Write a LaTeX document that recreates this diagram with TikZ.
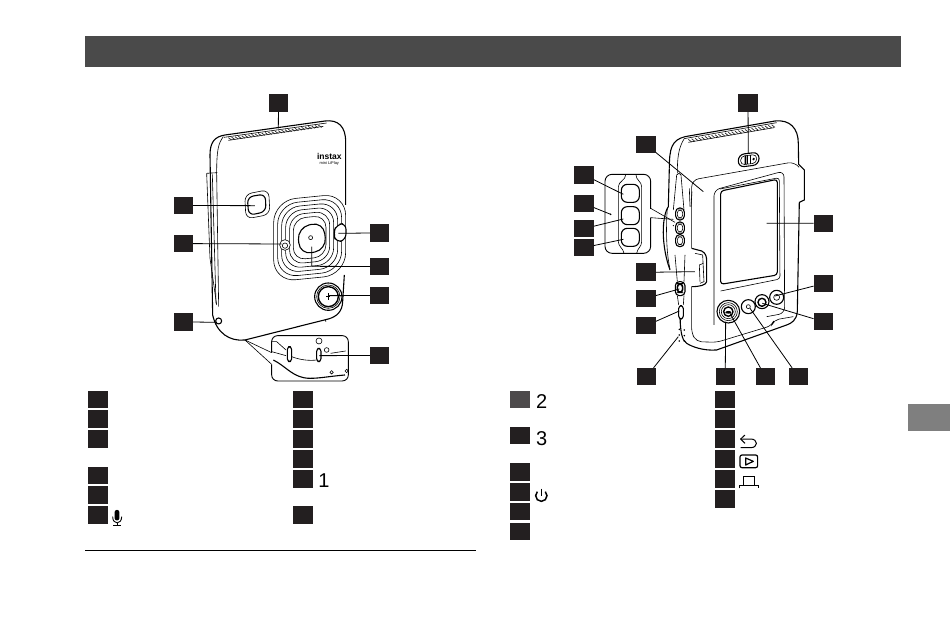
\documentclass[tikz,border=0pt]{standalone}
\usepackage{fontspec}
\setmainfont{Liberation Sans}
\definecolor{sqk}{HTML}{231F20}
\definecolor{sqg}{HTML}{4D4A4B}
\definecolor{bar}{HTML}{4A4A4A}
\definecolor{tabc}{HTML}{7F7F7F}
\tikzset{
  sq/.style={fill=sqk,draw=none,minimum width=19.5pt,minimum height=17.5pt,inner sep=0pt,outer sep=0pt},
  lead/.style={line width=0.8pt,black},
  body/.style={line width=1.1pt,black,line join=round},
  thin/.style={line width=0.6pt,black},
  hair/.style={line width=0.7pt,black!85},
  digit/.style={inner sep=0pt,font=\fontsize{20}{20}\selectfont},
  zf/.style={shift={(160,85)},x=0.3333pt,y=-0.3333pt},
  zb/.style={shift={(560,85)},x=0.3333pt,y=-0.3333pt},
  zl/.style={shift={(80,385)},x=0.3333pt,y=-0.3333pt},
  zr/.style={shift={(500,385)},x=0.3333pt,y=-0.3333pt},
}
\begin{document}
\begin{tikzpicture}[x=1pt,y=-1pt]
\useasboundingbox (0,0) rectangle (950,633);
\fill[white] (0,0) rectangle (950,633);
% header, tab, rule
\fill[bar] (85,36) rectangle (901,67);
\fill[tabc] (908,404) rectangle (950,431);
\coordinate (ruleA) at (85,550); \coordinate (ruleB) at (476,550);
\draw[line width=0.9pt] (ruleA) -- (ruleB);

% ---------- FRONT ----------
\begin{scope}[zf]
\draw[body] (150,210) .. controls (150,170) and (165,155) .. (195,150) -- (495,108)
  .. controls (535,103) and (557,125) .. (557,170) -- (557,360);
\draw[body] (553,570) -- (548,650) .. controls (547,680) and (530,695) .. (505,702)
  -- (255,765) .. controls (210,770) and (170,745) .. (158,690) -- (150,210);
% top vents
\draw[thin] (192,157) -- (500,114);
\draw[thin] (205,166) -- (490,124);
\foreach \i in {0,...,27} \draw[hair] ({205+\i*10},{158-\i*1.4}) -- ({215+\i*10},{165-\i*1.4});
\draw[thin] (190,155) .. controls (175,175) and (170,195) .. (170,265);
% side strip
\draw[thin] (140,265) -- (172,263);
\draw[thin] (140,265) -- (150,520) -- (170,660);
\draw[thin] (170,263) -- (172,400) -- (176,665);
\draw[thin] (157,268) -- (168,655);
% viewfinder
\draw[body,rounded corners=6pt] (262,336) -- (316,327) -- (318,380) -- (266,391) -- cycle;
\draw[thin,rounded corners=7pt] (254,328) -- (326,314) -- (330,388) -- (258,402) -- cycle;
% lens square rings
\begin{scope}[shift={(449,458)},yslant=0.1]
\foreach \w/\h/\r in {108/122/22,96/110/20,84/98/18,72/86/16,60/74/14,49/62/12}
  \draw[thin,rounded corners=\r pt] (-\w,-\h) rectangle (\w,\h);
\end{scope}
\draw[body,fill=white,rounded corners=12pt] (412,428) -- (490,410) -- (500,494) -- (420,510) -- cycle;
\draw[thin] (452,458) circle (6);
% flash
\draw[body,fill=white,rounded corners=6pt] (530,418) -- (558,415) -- (558,465) -- (528,472) -- (520,445) -- cycle;
% timer lamp
\draw[thin,fill=white] (375,480) circle (16);
\draw[thin] (375,482) circle (8);
% shutter button
\draw[body,fill=white] (505,635) circle (41);
\draw[thin] (505,635) circle (35);
\draw[line width=1.4pt] (505,635) circle (30);
\draw[thin] (505,625) -- (505,645) (499,635) -- (511,635);
% strap eyelet
\draw[body] (176,708) circle (9);
% foot
\draw[thin] (495,703) -- (498,710);
% inset
\draw[body,rounded corners=6pt,line width=0.9pt] (335,803) -- (335,752) -- (565,752) -- (565,888) -- (335,888) -- (335,838);
\coordinate (fa) at (255,765);
\coordinate (fb) at (335,803);
\coordinate (fc) at (335,838);
\draw[thin] (fa) -- (fb);
\draw[thin] (fa) -- (fc);
\draw[thin] (335,770) -- (350,770) -- (378,795);
\draw[thin] (335,770) -- (335,800) -- (378,812);
\draw[body,fill=white,rounded corners=3pt] (382,785) rectangle (395,830);
\draw[thin] (395,815) .. controls (420,825) and (450,828) .. (470,825);
\draw[body,fill=white,rounded corners=3pt] (470,790) rectangle (483,830);
\draw[thin] (512,805) -- (557,798);
\draw[thin] (477,768) circle (9);
\draw[thin] (500,795) circle (7);
\draw[body] (340,825) .. controls (380,845) and (400,880) .. (450,880) .. controls (480,880) and (500,875) .. (555,870);
\draw[thin] (515,862) circle (5);
\draw[thin] (560,858) circle (5);
% instax
\node[inner sep=0pt,font=\bfseries\fontsize{8.5}{9}\selectfont] (instaxA) at (508,213) {instax};
\node[inner sep=0pt,font=\fontsize{4}{5}\selectfont] (instaxB) at (508,234) {mini LiPlay};
\coordinate (c1) at (355,130);
\coordinate (c2) at (285,362);
\coordinate (c3) at (365,477);
\coordinate (c4) at (170,712);
\coordinate (c5) at (535,445);
\coordinate (c6) at (455,485);
\coordinate (c6k) at (455,544);
\coordinate (c7) at (505,632);
\coordinate (c8) at (478,812);
\end{scope}
\node[sq] (f1) at (278.5,103) {};
\node[sq] (f2) at (183.3,205.5) {};
\node[sq] (f3) at (183.3,243.6) {};
\node[sq] (f4) at (183.3,322) {};
\node[sq] (f5) at (379.6,233) {};
\node[sq] (f6) at (379.6,266.5) {};
\node[sq] (f7) at (379.6,295.5) {};
\node[sq] (f8) at (379.6,355.5) {};
\draw[lead] (f1) -- (c1);
\draw[lead] (f2.east) -- (c2);
\draw[lead] (f3.east) -- (c3);
\draw[lead] (f4.east) -- (c4);
\draw[lead] (f5.west) -- (c5);
\draw[lead] (f6.west) -- (c6k) -- (c6);
\draw[lead] (f7.west) -- (c7);
\draw[lead] (f8.west) -- (c8);

% ---------- BACK ----------
\begin{scope}[zb]
\draw[body] (328,250) .. controls (328,190) and (335,165) .. (375,155) -- (645,108)
  .. controls (690,103) and (715,130) .. (715,175) -- (716,238) -- (733,255) -- (733,345) -- (718,352)
  -- (712,680) .. controls (710,705) and (695,715) .. (680,720) -- (470,795)
  .. controls (430,798) and (395,785) .. (380,775) .. controls (365,765) and (362,740) .. (360,700);
\draw[body] (328,250) -- (325,365) .. controls (305,395) and (303,480) .. (330,555);
\draw[thin] (322,370) .. controls (318,420) and (318,500) .. (330,552);
% vents
\draw[thin] (372,161) -- (650,113);
\draw[thin] (385,172) -- (642,128);
\foreach \i in {0,...,25} \draw[hair] ({385+\i*10},{163-\i*1.75}) -- ({395+\i*10},{171-\i*1.75});
\draw[thin] (372,162) .. controls (355,190) and (352,220) .. (352,265);
% panel
\draw[thin,rounded corners=7pt] (395,490) -- (395,285) -- (705,230) -- (716,245);
\draw[thin] (388,310) -- (390,365);
\draw[thin] (396,320) -- (393,365);
\draw[body] (395,490) -- (425,498) .. controls (438,505) and (440,515) .. (440,530) -- (440,590) .. controls (438,600) and (420,605) .. (395,605);
\draw[thin] (405,505) -- (428,510) -- (432,590) -- (420,595);
\draw[thin] (418,540) -- (430,535) (420,590) -- (418,540);
\draw[thin,rounded corners=5pt] (395,605) -- (395,745) -- (410,770) -- (470,772) -- (635,722) -- (642,705) -- (700,695);
% bezel
\draw[thin,rounded corners=6pt] (462,720) -- (462,315) -- (672,258) -- (674,685) -- (620,695);
% screen
\draw[body,rounded corners=3pt] (482,598) -- (482,318) -- (652,283) -- (652,570) -- cycle;
\draw[thin,rounded corners=3pt] (482,618) -- (660,582) -- (658,278) -- (480,312);
% switch
\begin{scope}[shift={(566,224)},yslant=0.12]
\draw[body,fill=white,rounded corners=6pt] (-31,-19) rectangle (31,19);
\draw[thin,rounded corners=4pt] (-24,-13) rectangle (24,13);
\fill (-12,-13) rectangle (-7,13);
\draw[thin] (-3,-13) -- (-3,13) (5,-13) -- (5,13);
\fill (15,0) circle (4);
\end{scope}
% control strip
\draw[thin] (350,270) -- (340,375) (363,270) -- (372,375);
\draw[thin] (350,270) -- (357,265) -- (363,270);
\draw[thin] (345,510) -- (352,590) (375,510) -- (372,590);
\foreach \yy in {388,430,468} {
  \draw[body,fill=white,rounded corners=4pt] (347,\yy-19) rectangle (373,\yy+17);
  \draw[thin,rounded corners=3pt] (352,\yy-13) rectangle (368,\yy+11);
}
\fill (340,422) circle (2);
% power switch
\draw[body,fill=white,rounded corners=4pt] (346,590) rectangle (375,632);
\draw[line width=1.6pt,rounded corners=3pt] (352,597) rectangle (368,622);
\draw[thin] (352,632) -- (356,660) (372,632) -- (370,660);
% slot
\draw[body,fill=white,rounded corners=3pt] (356,662) rectangle (370,702);
\draw[thin] (362,705) -- (362,730);
% speaker holes
\foreach \px/\py in {358/733,373/735,358/750,373/752,358/768,373/768}
  \fill (\px,\py) circle (2.6);
% dial + buttons
\draw[body,fill=white] (505,680) circle (34);
\foreach \r in {27,21} \draw[thin] (505,680) circle (\r);
\draw[line width=1.4pt,fill=white] (505,680) circle (14);
\fill (505,682) ellipse (9 and 4);
\draw[body,fill=white] (565,665) circle (21);
\draw[thin] (565,665) circle (6);
\draw[body,fill=white] (606,650) circle (21);
\draw[line width=1.4pt] (606,652) circle (12);
\draw[body,fill=white] (650,637) circle (21);
\draw[thin] (650,637) circle (9);
% inset
\draw[body,line width=0.9pt,rounded corners=7pt] (272,372) -- (272,268) -- (135,268) -- (135,505) -- (272,505) -- (272,398);
\coordinate (ba) at (272,370);
\coordinate (bb) at (345,412);
\coordinate (bc) at (272,398);
\coordinate (bd) at (340,403);
\draw[thin] (ba) -- (bb);
\draw[thin] (bc) -- (bd);
\draw[thin] (197,270) .. controls (197,285) and (175,290) .. (175,305) -- (175,470) .. controls (175,485) and (190,490) .. (192,505);
\draw[thin] (228,270) .. controls (228,285) and (245,290) .. (245,305) -- (245,470) .. controls (245,485) and (232,490) .. (230,505);
\foreach \yy in {325,392,457}
  \draw[body,fill=white,rounded corners=6pt] (184,\yy-27) rectangle (238,\yy+27);
\coordinate (d1) at (565,205);
\coordinate (d2) at (430,320);
\coordinate (d3) at (190,328);
\coordinate (d4) at (152,388);
\coordinate (d5) at (190,402);
\coordinate (d6) at (190,463);
\coordinate (d7) at (405,560);
\coordinate (d8) at (358,612);
\coordinate (d9) at (358,678);
\coordinate (d10) at (355,755);
\coordinate (d11) at (497,710);
\coordinate (d12) at (510,685);
\coordinate (d13) at (570,670);
\coordinate (d14) at (620,415);
\coordinate (d15) at (645,633);
\coordinate (d16) at (607,655);
\end{scope}
\fill (d4) circle (0.9pt);
\node[sq] (b1) at (748,103) {};
\node[sq] (b2) at (646.2,144.5) {};
\node[sq] (b3) at (584,174.8) {};
\node[sq] (b4) at (584,203.6) {};
\node[sq] (b5) at (584,228.6) {};
\node[sq] (b6) at (584,247.6) {};
\node[sq] (b7) at (646.2,272.2) {};
\node[sq] (b8) at (646.2,298.3) {};
\node[sq] (b9) at (646.2,325.6) {};
\node[sq] (b10) at (646.6,376.6) {};
\node[sq] (b11) at (725.3,376.6) {};
\node[sq] (b12) at (765.3,376.6) {};
\node[sq] (b13) at (798.3,376.6) {};
\node[sq] (b14) at (823.3,223.3) {};
\node[sq] (b15) at (823.3,283.6) {};
\node[sq] (b16) at (823.3,321.6) {};
\draw[lead] (b1) -- (d1);
\draw[lead] (b2) -- (d2);
\draw[lead] (b3) -- (d3);
\draw[lead] (b4) -- (d4);
\draw[lead] (b5) -- (d5);
\draw[lead] (b6) -- (d6);
\draw[lead] (b7.east) -- (d7);
\draw[lead] (b8) -- (d8);
\draw[lead] (b9) -- (d9);
\draw[lead] (b10) -- (d10);
\draw[lead] (b11.north) -- (d11);
\draw[lead] (b12) -- (d12);
\draw[lead] (b13) -- (d13);
\draw[lead] (b14.west) -- (d14);
\draw[lead] (b15) -- (d15);
\draw[lead] (b16) -- (d16);

% ---------- LEGEND ----------
\foreach \n/\yy in {a/399.4,b/419.2,c/438.8,d/475.4,e/495.2,f/515}
  \node[sq] (la\n) at (97.8,\yy) {};
\foreach \n/\yy in {a/399.4,b/419.2,c/438.8,d/458.8,e/478.8,f/515}
  \node[sq] (lb\n) at (302.8,\yy) {};
\node[sq,fill=sqg] (lca) at (520.2,399.4) {};
\foreach \n/\yy in {b/435.6,c/472,d/491.8,e/511.6,f/531.4}
  \node[sq] (lc\n) at (520.2,\yy) {};
\foreach \n/\yy in {a/399.4,b/419.2,c/439,d/458.8,e/478.8,f/499}
  \node[sq] (ld\n) at (724.8,\yy) {};
\node[digit] (n1) at (324,481) {1};
\node[digit] (n2) at (541.7,401.7) {2};
\node[digit] (n3) at (541.7,438.3) {3};
% mic icon
\begin{scope}[zl]
\fill[rounded corners=2pt] (104,375) rectangle (118,406);
\draw[line width=0.9pt] (98,395) .. controls (98,420) and (125,420) .. (125,395);
\draw[line width=0.9pt] (111,413) -- (111,420) (100,420) -- (122,420);
\end{scope}
% action icons
\begin{scope}[zr]
\draw[line width=1.5pt] (124,311) -- (124,332);
\draw[line width=1.5pt] (136,320) arc[start angle=-45,end angle=225,radius=17];
\draw[line width=1pt,line join=round] (735,150) -- (722,162) -- (735,175);
\draw[line width=1pt] (722,162) -- (752,162) .. controls (775,162) and (775,188) .. (752,188) -- (722,188);
\draw[line width=1.2pt,rounded corners=2pt] (720,210) rectangle (773,248);
\draw[line width=1.2pt,line join=round] (737,219) -- (760,229) -- (737,240) -- cycle;
\draw[line width=1pt] (718,310) -- (718,300) -- (730,300) -- (730,275) -- (765,275) -- (765,300) -- (775,300) -- (775,310);
\draw[line width=1pt] (730,300) -- (765,300);
\end{scope}
\end{tikzpicture}
\end{document}
